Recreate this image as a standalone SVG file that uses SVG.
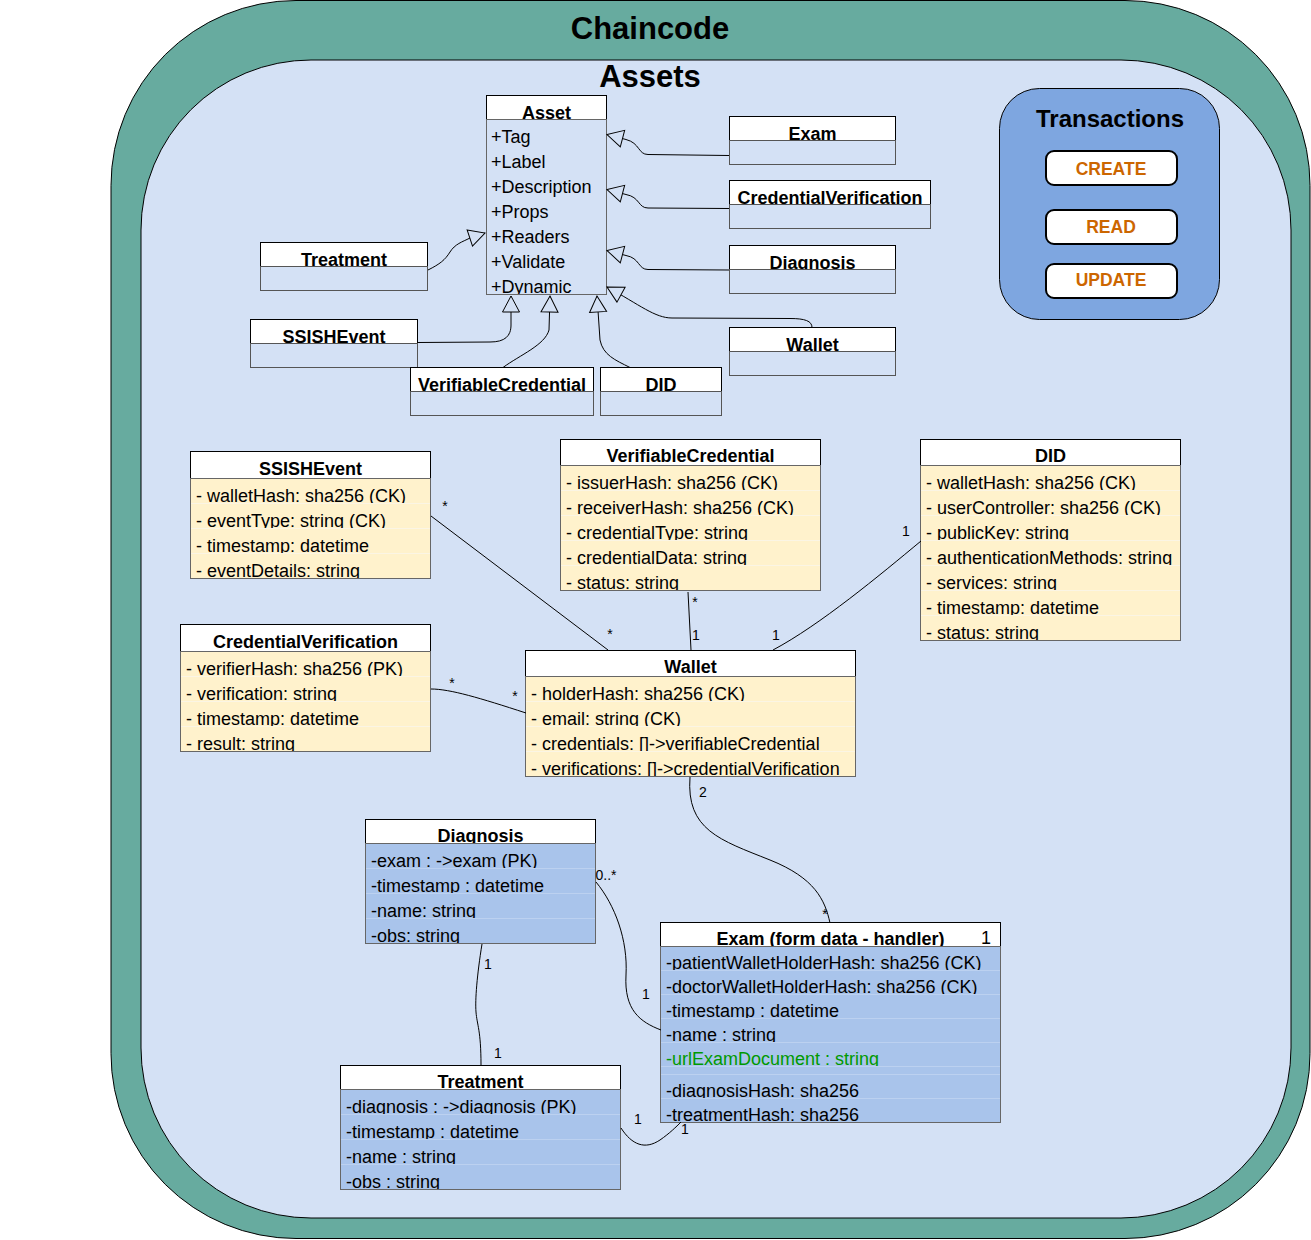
<svg xmlns="http://www.w3.org/2000/svg" width="1311" height="1240" viewBox="0 0 1311 1240">
<style>
text{font-family:"Liberation Sans",Arial,Helvetica,sans-serif;font-size:18px;fill:#000}
.h{font-weight:bold;text-anchor:middle}
.hd{fill:#fff;stroke:#000;stroke-width:1}
.bd{fill:none;stroke:#666;stroke-width:1}
.sb{fill:#D4E1F5;stroke:#555;stroke-width:1}
.y{fill:#FFF2CC;stroke:#FBF5E4;stroke-width:1}
.b{fill:#A9C4EB;stroke:#BCD1F0;stroke-width:1}
.e{fill:none;stroke:#000;stroke-width:1}
.g{marker-end:url(#tri)}
.l{font-size:14px;text-anchor:middle}
.btn{fill:#fff;stroke:#000;stroke-width:2}
.bt{font-weight:bold;font-size:17.5px;fill:#CC6600;text-anchor:middle}
</style>
<defs>
<marker id="tri" viewBox="-1 -1 19 19" refX="16" refY="8.5" markerWidth="19" markerHeight="19" markerUnits="userSpaceOnUse" orient="auto" overflow="visible">
<path d="M0,0 L16,8.5 L0,17 Z" fill="#D4E1F5" stroke="#000" stroke-width="1"/>
</marker>
<clipPath id="c-asset"><rect x="486" y="119" width="121" height="175"/></clipPath>
<clipPath id="c-ssis"><rect x="190" y="478" width="241" height="100"/></clipPath>
<clipPath id="c-cv"><rect x="180" y="651" width="251" height="100"/></clipPath>
<clipPath id="c-vc"><rect x="560" y="465" width="261" height="125"/></clipPath>
<clipPath id="c-did"><rect x="920" y="465" width="261" height="175"/></clipPath>
<clipPath id="c-wal"><rect x="525" y="676" width="331" height="100"/></clipPath>
<clipPath id="c-diag"><rect x="365" y="843" width="231" height="100"/></clipPath>
<clipPath id="c-treat"><rect x="340" y="1089" width="281" height="100"/></clipPath>
<clipPath id="c-exam"><rect x="660" y="946" width="341" height="176"/></clipPath>
</defs>

<g id="chaincode">
<rect x="111" y="0.5" width="1199" height="1238" rx="185" ry="185" fill="#67AB9F" stroke="#000"/>
<text x="650" y="39" class="h" style="font-size:31px">Chaincode</text>
</g>
<g id="assets">
<rect x="141" y="60" width="1150" height="1158" rx="170" ry="170" fill="#D4E1F5" stroke="#000"/>
<text x="650" y="87" class="h" style="font-size:31px">Assets</text>
</g>

<g id="transactions">
<rect x="999.5" y="88.5" width="220" height="231" rx="40" ry="40" fill="#7EA6E0" stroke="#000"/>
<text x="1110" y="127" class="h" style="font-size:24px">Transactions</text>
<g id="tx-create"><rect x="1046" y="151" width="131" height="34" rx="8" class="btn"/><text x="1111" y="175" class="bt">CREATE</text></g>
<g id="tx-read"><rect x="1046" y="210" width="131" height="34" rx="8" class="btn"/><text x="1111" y="233" class="bt">READ</text></g>
<g id="tx-update"><rect x="1046" y="264" width="131" height="34" rx="8" class="btn"/><text x="1111" y="286" class="bt">UPDATE</text></g>
</g>

<g id="asset">
<rect x="486.5" y="95.5" width="120" height="24" class="hd"/>
<text x="546.5" y="119" class="h">Asset</text>
<rect x="486.5" y="119.5" width="120" height="175" class="bd"/>
<g clip-path="url(#c-asset)">
<text x="491" y="143">+Tag</text>
<text x="491" y="168">+Label</text>
<text x="491" y="193">+Description</text>
<text x="491" y="218">+Props</text>
<text x="491" y="243">+Readers</text>
<text x="491" y="268">+Validate</text>
<text x="491" y="293">+Dynamic</text>
</g>
</g>

<g id="exam-small">
<rect x="729.5" y="116.5" width="166" height="24" class="hd"/>
<text x="812.5" y="140" class="h">Exam</text>
<rect x="729.5" y="140.5" width="166" height="24" class="sb"/>
</g>
<g id="cv-small">
<rect x="729.5" y="180.5" width="201" height="24" class="hd"/>
<text x="830" y="204" class="h">CredentialVerification</text>
<rect x="729.5" y="204.5" width="201" height="24" class="sb"/>
</g>
<g id="diagnosis-small">
<rect x="729.5" y="245.5" width="166" height="24" class="hd"/>
<text x="812.5" y="269" class="h">Diagnosis</text>
<rect x="729.5" y="269.5" width="166" height="24" class="sb"/>
</g>
<g id="wallet-small">
<rect x="729.5" y="327.5" width="166" height="24" class="hd"/>
<text x="812.5" y="351" class="h">Wallet</text>
<rect x="729.5" y="351.5" width="166" height="24" class="sb"/>
</g>
<g id="treatment-small">
<rect x="260.5" y="242.5" width="167" height="24" class="hd"/>
<text x="344" y="266" class="h">Treatment</text>
<rect x="260.5" y="266.5" width="167" height="24" class="sb"/>
</g>
<g id="ssishevent-small">
<rect x="250.5" y="319.5" width="167" height="24" class="hd"/>
<text x="334" y="343" class="h">SSISHEvent</text>
<rect x="250.5" y="343.5" width="167" height="24" class="sb"/>
</g>
<g id="vc-small">
<rect x="410.5" y="367.5" width="183" height="24" class="hd"/>
<text x="502" y="391" class="h">VerifiableCredential</text>
<rect x="410.5" y="391.5" width="183" height="24" class="sb"/>
</g>
<g id="did-small">
<rect x="600.5" y="367.5" width="121" height="24" class="hd"/>
<text x="661" y="391" class="h">DID</text>
<rect x="600.5" y="391.5" width="121" height="24" class="sb"/>
</g>

<g id="ssishevent">
<rect x="190.5" y="451.5" width="240" height="27" class="hd"/>
<text x="310.5" y="475" class="h">SSISHEvent</text>
<rect x="190.5" y="478.5" width="240" height="25" class="y"/><text x="196" y="502">- walletHash: sha256 (CK)</text>
<rect x="190.5" y="503.5" width="240" height="25" class="y"/><text x="196" y="527">- eventType: string (CK)</text>
<rect x="190.5" y="528.5" width="240" height="25" class="y"/><text x="196" y="552">- timestamp: datetime</text>
<rect x="190.5" y="553.5" width="240" height="25" class="y"/><text x="196" y="577" clip-path="url(#c-ssis)">- eventDetails: string</text>
<rect x="190.5" y="478.5" width="240" height="100" class="bd"/>
</g>

<g id="credentialverification">
<rect x="180.5" y="624.5" width="250" height="27" class="hd"/>
<text x="305.5" y="648" class="h">CredentialVerification</text>
<rect x="180.5" y="651.5" width="250" height="25" class="y"/><text x="186" y="675">- verifierHash: sha256 (PK)</text>
<rect x="180.5" y="676.5" width="250" height="25" class="y"/><text x="186" y="700">- verification: string</text>
<rect x="180.5" y="701.5" width="250" height="25" class="y"/><text x="186" y="725">- timestamp: datetime</text>
<rect x="180.5" y="726.5" width="250" height="25" class="y"/><text x="186" y="750" clip-path="url(#c-cv)">- result: string</text>
<rect x="180.5" y="651.5" width="250" height="100" class="bd"/>
</g>

<g id="verifiablecredential">
<rect x="560.5" y="439.5" width="260" height="26" class="hd"/>
<text x="690.5" y="462" class="h">VerifiableCredential</text>
<rect x="560.5" y="465.5" width="260" height="25" class="y"/><text x="566" y="489">- issuerHash: sha256 (CK)</text>
<rect x="560.5" y="490.5" width="260" height="25" class="y"/><text x="566" y="514">- receiverHash: sha256 (CK)</text>
<rect x="560.5" y="515.5" width="260" height="25" class="y"/><text x="566" y="539">- credentialType: string</text>
<rect x="560.5" y="540.5" width="260" height="25" class="y"/><text x="566" y="564">- credentialData: string</text>
<rect x="560.5" y="565.5" width="260" height="25" class="y"/><text x="566" y="589" clip-path="url(#c-vc)">- status: string</text>
<rect x="560.5" y="465.5" width="260" height="125" class="bd"/>
</g>

<g id="did">
<rect x="920.5" y="439.5" width="260" height="26" class="hd"/>
<text x="1050.5" y="462" class="h">DID</text>
<rect x="920.5" y="465.5" width="260" height="25" class="y"/><text x="926" y="489">- walletHash: sha256 (CK)</text>
<rect x="920.5" y="490.5" width="260" height="25" class="y"/><text x="926" y="514">- userController: sha256 (CK)</text>
<rect x="920.5" y="515.5" width="260" height="25" class="y"/><text x="926" y="539">- publicKey: string</text>
<rect x="920.5" y="540.5" width="260" height="25" class="y"/><text x="926" y="564">- authenticationMethods: string</text>
<rect x="920.5" y="565.5" width="260" height="25" class="y"/><text x="926" y="589">- services: string</text>
<rect x="920.5" y="590.5" width="260" height="25" class="y"/><text x="926" y="614">- timestamp: datetime</text>
<rect x="920.5" y="615.5" width="260" height="25" class="y"/><text x="926" y="639" clip-path="url(#c-did)">- status: string</text>
<rect x="920.5" y="465.5" width="260" height="175" class="bd"/>
</g>

<g id="wallet">
<rect x="525.5" y="650.5" width="330" height="26" class="hd"/>
<text x="690.5" y="673" class="h">Wallet</text>
<rect x="525.5" y="676.5" width="330" height="25" class="y"/><text x="531" y="700">- holderHash: sha256 (CK)</text>
<rect x="525.5" y="701.5" width="330" height="25" class="y"/><text x="531" y="725">- email: string (CK)</text>
<rect x="525.5" y="726.5" width="330" height="25" class="y"/><text x="531" y="750">- credentials: []-&gt;verifiableCredential</text>
<rect x="525.5" y="751.5" width="330" height="25" class="y"/><text x="531" y="775" clip-path="url(#c-wal)">- verifications: []-&gt;credentialVerification</text>
<rect x="525.5" y="676.5" width="330" height="100" class="bd"/>
</g>

<g id="diagnosis">
<rect x="365.5" y="819.5" width="230" height="24" class="hd"/>
<text x="480.5" y="842" class="h">Diagnosis</text>
<rect x="365.5" y="843.5" width="230" height="25" class="b"/><text x="371" y="867">-exam : -&gt;exam (PK)</text>
<rect x="365.5" y="868.5" width="230" height="25" class="b"/><text x="371" y="892">-timestamp : datetime</text>
<rect x="365.5" y="893.5" width="230" height="25" class="b"/><text x="371" y="917">-name: string</text>
<rect x="365.5" y="918.5" width="230" height="25" class="b"/><text x="371" y="942" clip-path="url(#c-diag)">-obs: string</text>
<rect x="365.5" y="843.5" width="230" height="100" class="bd"/>
</g>

<g id="treatment">
<rect x="340.5" y="1065.5" width="280" height="24" class="hd"/>
<text x="480.5" y="1088" class="h">Treatment</text>
<rect x="340.5" y="1089.5" width="280" height="25" class="b"/><text x="346" y="1113">-diagnosis : -&gt;diagnosis (PK)</text>
<rect x="340.5" y="1114.5" width="280" height="25" class="b"/><text x="346" y="1138">-timestamp : datetime</text>
<rect x="340.5" y="1139.5" width="280" height="25" class="b"/><text x="346" y="1163">-name : string</text>
<rect x="340.5" y="1164.5" width="280" height="25" class="b"/><text x="346" y="1188" clip-path="url(#c-treat)">-obs : string</text>
<rect x="340.5" y="1089.5" width="280" height="100" class="bd"/>
</g>

<g id="exam">
<rect x="660.5" y="922.5" width="340" height="24" class="hd"/>
<text x="830.5" y="945" class="h">Exam (form data - handler)</text>
<text x="981" y="944">1</text>
<rect x="660.5" y="946.5" width="340" height="24" class="b"/><text x="666" y="969">-patientWalletHolderHash: sha256 (CK)</text>
<rect x="660.5" y="970.5" width="340" height="24" class="b"/><text x="666" y="993">-doctorWalletHolderHash: sha256 (CK)</text>
<rect x="660.5" y="994.5" width="340" height="24" class="b"/><text x="666" y="1017">-timestamp : datetime</text>
<rect x="660.5" y="1018.5" width="340" height="24" class="b"/><text x="666" y="1041">-name : string</text>
<rect x="660.5" y="1042.5" width="340" height="24" class="b"/><text x="666" y="1065" style="fill:#009900">-urlExamDocument : string</text>
<rect x="660.5" y="1066.5" width="340" height="8" class="b"/>
<rect x="660.5" y="1074.5" width="340" height="24" class="b"/><text x="666" y="1097">-diagnosisHash: sha256</text>
<rect x="660.5" y="1098.5" width="340" height="24" class="b"/><text x="666" y="1121" clip-path="url(#c-exam)">-treatmentHash: sha256</text>
<rect x="660.5" y="946.5" width="340" height="176" class="bd"/>
</g>

<g id="connectors">
<path class="e g" d="M729,155.5 L648,154.5 C638,154.5 640,143 626,139.5 L607,134.5"/>
<path class="e g" d="M729,208.5 L648,208 C638,208 640,197 626,194.5 L607,189.5"/>
<path class="e g" d="M729,270 L648,269.5 C638,269.5 640,258 626,255.5 L607,250.5"/>
<path class="e g" d="M812,327.5 C812,321 805,318.5 790,318.5 L672,318 C655,318 640,305 607,287"/>
<path class="e g" d="M428,270 C440,264 445,260 450,252 C455,244 462,242 470,238 L485,233"/>
<path class="e g" d="M418,342.5 L490,342 C505,342 511,336 511,325 L511,296"/>
<path class="e g" d="M503,367.5 C520,355 545,345 549,330 L550,296"/>
<path class="e g" d="M630,367.5 C615,360 603,355 600,340 L597,296"/>

<path class="e" d="M431,516 L608,650"/>
<path class="e" d="M688,592 L691,650"/>
<path class="e" d="M921,541 C880,575 820,625 773,650"/>
<path class="e" d="M431,689 C450,689 480,698 526,713"/>
<path class="e" d="M690,777 C686,830 720,840 770,860 C815,878 825,900 830,923"/>
<path class="e" d="M596,882 C615,905 628,940 626,975 C624,1010 640,1022 661,1030"/>
<path class="e" d="M482,944 C477,975 475,1000 476,1012 C477,1025 481,1030 481,1065"/>
<path class="e" d="M621,1128 C632,1145 645,1150 660,1140 C670,1133 676,1127 681,1122"/>

<text class="l" x="445" y="511">*</text>
<text class="l" x="610" y="639">*</text>
<text class="l" x="695" y="607">*</text>
<text class="l" x="696" y="640">1</text>
<text class="l" x="906" y="536">1</text>
<text class="l" x="776" y="640">1</text>
<text class="l" x="452" y="688">*</text>
<text class="l" x="515" y="701">*</text>
<text class="l" x="703" y="797">2</text>
<text class="l" x="825" y="919">*</text>
<text class="l" x="606" y="880">0..*</text>
<text class="l" x="646" y="999">1</text>
<text class="l" x="488" y="969">1</text>
<text class="l" x="498" y="1058">1</text>
<text class="l" x="638" y="1124">1</text>
<text class="l" x="685" y="1134">1</text>
</g>
</svg>
